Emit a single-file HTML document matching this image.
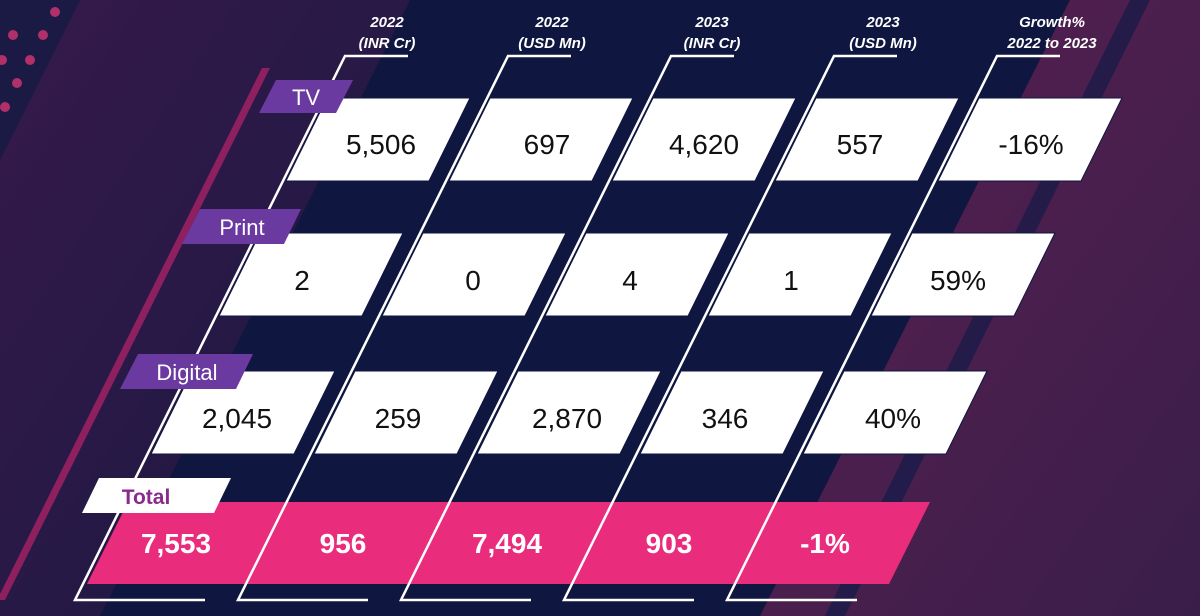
<!DOCTYPE html>
<html><head><meta charset="utf-8"><style>
html,body{margin:0;padding:0;background:#0f1640;}
svg{display:block}
text{font-family:"Liberation Sans",sans-serif}
</style></head><body>
<svg width="1200" height="616" viewBox="0 0 1200 616">
<defs>
<linearGradient id="lg" x1="0" y1="0" x2="1" y2="1">
<stop offset="0" stop-color="#3a1a4c"/><stop offset="1" stop-color="#1a1840"/>
</linearGradient>
<linearGradient id="rg" x1="0" y1="0" x2="1" y2="1">
<stop offset="0" stop-color="#5a2050"/><stop offset="1" stop-color="#3a1e4a"/>
</linearGradient>
</defs>
<rect width="1200" height="616" fill="#0f1640"/>
<polygon points="80,0 410,0 100,616 0,616 0,160" fill="url(#lg)" opacity="0.9"/>
<polygon points="0,0 80,0 0,160" fill="#1a1a44"/>
<polygon points="1070,0 1200,0 1200,616 760,616" fill="url(#rg)"/>
<polygon points="1130,0 1150,0 845,616 825,616" fill="#1a1a48" opacity="0.8"/>
<polygon points="262,68 270,68 5,600 -3,600" fill="#8e2060"/>
<g fill="#b0306a">
<circle cx="55" cy="12" r="5"/><circle cx="13" cy="35" r="5"/><circle cx="43" cy="35" r="5"/>
<circle cx="2" cy="60" r="5"/><circle cx="30" cy="60" r="5"/><circle cx="17" cy="83" r="5"/><circle cx="5" cy="107" r="5"/>
</g>
<!-- pink total band -->
<polygon points="128,502 930,502 889,584 87,584" fill="#e92c7c"/>
<!-- column lines -->
<g fill="none" stroke="#ffffff" stroke-width="2.5">
<polyline points="408,56 345,56 75,600 205,600"/>
<polyline points="571,56 508,56 238,600 368,600"/>
<polyline points="734,56 671,56 401,600 531,600"/>
<polyline points="897,56 834,56 564,600 694,600"/>
<polyline points="1060,56 997,56 727,600 857,600"/>
</g>
<!-- cells -->
<g fill="#ffffff" stroke="#0f1640" stroke-width="1">
<polygon points="327,98 470,98 429,181 286,181"/>
<polygon points="490,98 633,98 592,181 449,181"/>
<polygon points="653,98 796,98 755,181 612,181"/>
<polygon points="816,98 959,98 918,181 775,181"/>
<polygon points="979,98 1122,98 1081,181 938,181"/>
<polygon points="260,233 403,233 362,316 219,316"/>
<polygon points="423,233 566,233 525,316 382,316"/>
<polygon points="586,233 729,233 688,316 545,316"/>
<polygon points="749,233 892,233 851,316 708,316"/>
<polygon points="912,233 1055,233 1014,316 871,316"/>
<polygon points="192,371 335,371 294,454 151,454"/>
<polygon points="355,371 498,371 457,454 314,454"/>
<polygon points="518,371 661,371 620,454 477,454"/>
<polygon points="681,371 824,371 783,454 640,454"/>
<polygon points="844,371 987,371 946,454 803,454"/>
</g>
<!-- tags -->
<polygon points="276,80 353,80 336,113 259,113" fill="#6a3aa0"/>
<polygon points="200,209 301,209 284,244 182,244" fill="#6a3aa0"/>
<polygon points="138,354 253,354 236,389 120,389" fill="#6a3aa0"/>
<polygon points="99,478 231,478 214,513 82,513" fill="#ffffff"/>
<g font-size="22" fill="#ffffff" text-anchor="middle">
<text x="306" y="105">TV</text>
<text x="242" y="235">Print</text>
<text x="187" y="380">Digital</text>
</g>
<text x="146" y="504" font-size="21" font-weight="bold" fill="#8a2a8e" text-anchor="middle">Total</text>
<!-- headers -->
<g font-size="15" font-weight="bold" font-style="italic" fill="#ffffff" text-anchor="middle">
<text x="387" y="27">2022</text><text x="387" y="48">(INR Cr)</text>
<text x="552" y="27">2022</text><text x="552" y="48">(USD Mn)</text>
<text x="712" y="27">2023</text><text x="712" y="48">(INR Cr)</text>
<text x="883" y="27">2023</text><text x="883" y="48">(USD Mn)</text>
<text x="1052" y="27">Growth%</text><text x="1052" y="48">2022 to 2023</text>
</g>
<g font-size="28" fill="#111111" text-anchor="middle">
<text x="381" y="154">5,506</text>
<text x="547" y="154">697</text>
<text x="704" y="154">4,620</text>
<text x="860" y="154">557</text>
<text x="1031" y="154">-16%</text>
<text x="302" y="290">2</text>
<text x="473" y="290">0</text>
<text x="630" y="290">4</text>
<text x="791" y="290">1</text>
<text x="958" y="290">59%</text>
<text x="237" y="428">2,045</text>
<text x="398" y="428">259</text>
<text x="567" y="428">2,870</text>
<text x="725" y="428">346</text>
<text x="893" y="428">40%</text>
</g>
<g font-size="28" font-weight="bold" fill="#ffffff" text-anchor="middle">
<text x="176" y="553">7,553</text>
<text x="343" y="553">956</text>
<text x="507" y="553">7,494</text>
<text x="669" y="553">903</text>
<text x="825" y="553">-1%</text>
</g>
</svg>
</body></html>
